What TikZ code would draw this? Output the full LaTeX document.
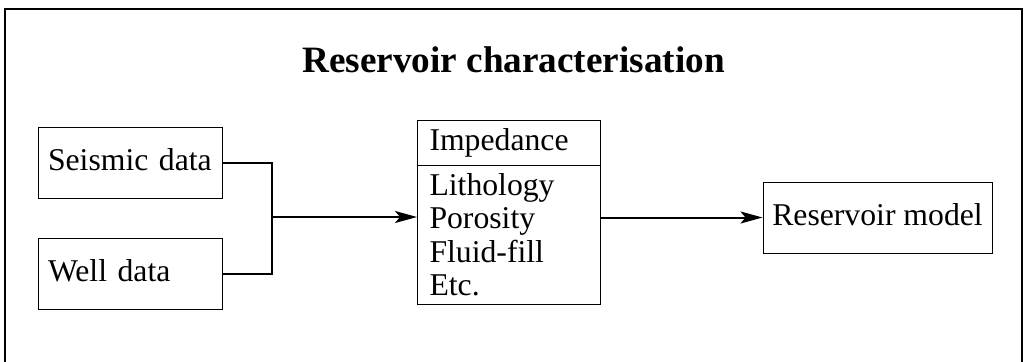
\documentclass[tikz,border=0pt]{standalone}
\usepackage{fontspec}
\setmainfont{Liberation Serif}
\usetikzlibrary{positioning,shapes.multipart,arrows.meta}

\begin{document}
\begin{tikzpicture}[x=1pt,y=-1pt,
  databox/.style={draw,line width=1pt,rectangle,minimum height=71pt,
    inner xsep=10pt,text width=164pt,align=left,
    font=\fontsize{31.7}{34}\selectfont,text height=22pt,text depth=7pt},
  propbox/.style={draw,line width=1pt,rectangle split,rectangle split parts=2,
    inner xsep=12pt,inner ysep=7.5pt,text width=159pt,align=left,
    font=\fontsize{31.7}{33.5}\selectfont},
  modelbox/.style={draw,line width=1pt,rectangle,minimum height=71pt,
    minimum width=229pt,font=\fontsize{31.7}{34}\selectfont,
    text height=22pt,text depth=7pt},
  link/.style={line width=2pt},
  flow/.style={line width=2pt,-{Stealth[length=22pt,width=12pt,inset=5pt]}}]
  \useasboundingbox (0,0) rectangle (1024,361);
  \begin{scope}
    \clip (0,0) rectangle (1024,361);
    \draw[line width=2pt] (5,380) -- (5,9) -- (1022,9) -- (1022,380);
  \end{scope}
  \node[anchor=base,font=\fontsize{37.2}{40}\selectfont\bfseries] (title) at (513.5,72) {Reservoir characterisation};
  \node[databox] (seismic) at (130,162.5) {Seismic data};
  \node[databox] (well) at (130,273.5) {Well data};
  \node[propbox,anchor=north west] (props) at (417,120)
    {Impedance\nodepart{two}Lithology\\Porosity\\Fluid-fill\\Etc.};
  \node[modelbox] (model) at (877.5,217.5) {Reservoir model};
  \coordinate (join) at (272,217);
  \draw[link] (seismic.east) -| (join);
  \draw[link] (well.east) -| (join);
  \draw[flow] (join) -- (join -| props.west);
  \draw[flow] (props.east |- model.west) -- (model.west);
\end{tikzpicture}
\end{document}
